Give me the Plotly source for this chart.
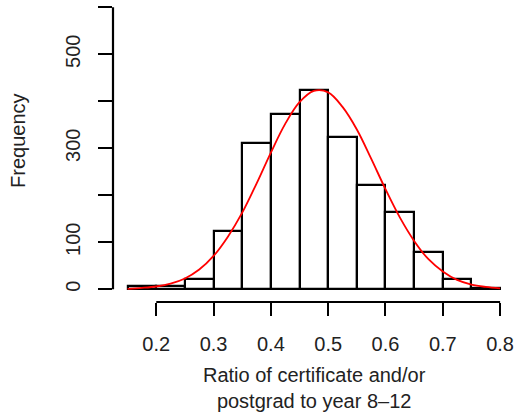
import plotly.graph_objects as go

# histogram bins (left edges) and counts
bin_left = [0.15, 0.20, 0.25, 0.30, 0.35, 0.40, 0.45, 0.50, 0.55, 0.60, 0.65, 0.70, 0.75]
counts = [7, 7, 22, 123, 312, 374, 424, 325, 222, 165, 79, 22, 3]
bin_width = 0.05

# red fitted curve
curve_x = [0.15, 0.175, 0.2, 0.225, 0.25, 0.275, 0.3, 0.325, 0.35, 0.375, 0.4, 0.425,
           0.45, 0.475, 0.5, 0.525, 0.55, 0.575, 0.6, 0.625, 0.65, 0.675, 0.7, 0.725,
           0.75, 0.775, 0.8]
curve_y = [1, 3, 6, 12, 23, 42, 71, 112, 163, 225, 291, 352,
           398, 422, 419, 388, 340, 278, 213, 153, 103, 64, 38, 20,
           10, 5, 2]

x_ticks = [0.2, 0.3, 0.4, 0.5, 0.6, 0.7, 0.8]
y_ticks = [0, 100, 200, 300, 400, 500, 600]
y_ticktext = ["0", "100", "", "300", "", "500", ""]

font = "Liberation Sans, Arial, sans-serif"

fig = go.Figure()
fig.add_trace(go.Bar(
    x=[b + bin_width / 2 for b in bin_left], y=counts, width=bin_width,
    marker=dict(color="white", line=dict(color="black", width=2.2)),
))
fig.add_trace(go.Scatter(
    x=curve_x, y=curve_y, mode="lines",
    line=dict(color="red", width=1.8, shape="spline"),
))

# R-style axis lines that span only the tick range
fig.add_shape(type="line", xref="x", yref="paper", x0=x_ticks[0], x1=x_ticks[-1],
              y0=0, y1=0, line=dict(color="black", width=2.2))
fig.add_shape(type="line", xref="paper", yref="y", x0=0, x1=0,
              y0=y_ticks[0], y1=y_ticks[-1], line=dict(color="black", width=2.2))

fig.add_annotation(text="Ratio of certificate and/or<br>postgrad to year 8\u201312",
                   xref="paper", yref="paper", x=0.5, y=-0.2, yanchor="top",
                   showarrow=False, font=dict(size=20, color="#222"))
fig.add_annotation(text="Frequency", xref="paper", yref="paper", x=-0.235, y=0.535,
                   xanchor="center", yanchor="middle",
                   textangle=-90, showarrow=False, font=dict(size=20, color="#222"))

fig.update_layout(
    width=517, height=416,
    margin=dict(l=113, r=2, t=0, b=114),
    plot_bgcolor="white", paper_bgcolor="white",
    showlegend=False, bargap=0,
    font=dict(family=font, size=20, color="#222"),
    xaxis=dict(range=[0.1245, 0.826], tickvals=x_ticks, ticktext=[str(v) for v in x_ticks],
               ticks="outside", ticklen=13, tickwidth=2.2, tickcolor="black",
               showgrid=False, zeroline=False, showline=False, ticklabelstandoff=11,
               automargin=False),
    yaxis=dict(range=[-27, 615.5], tickvals=y_ticks, ticktext=y_ticktext, tickangle=-90,
               ticks="outside", ticklen=14, tickwidth=2.2, tickcolor="black",
               showgrid=False, zeroline=False, showline=False, ticklabelstandoff=10,
               automargin=False),
)

# drop the page's default body margin so the figure sits at the window's corner
fig.write_html("out.html", config={"displayModeBar": False},
               post_script="document.body.style.margin='0';")
